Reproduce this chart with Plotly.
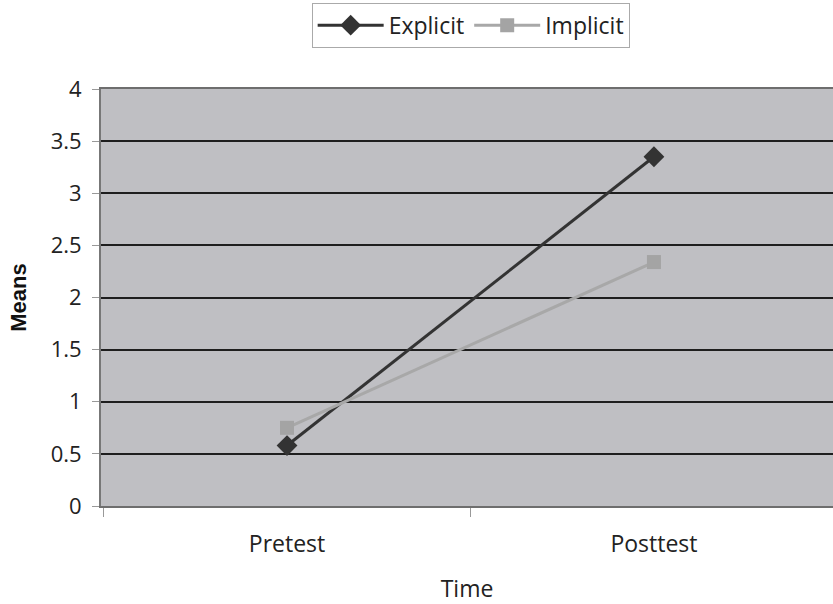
import plotly.graph_objects as go

categories = ["Pretest", "Posttest"]
explicit = [0.58, 3.35]
implicit = [0.75, 2.34]
y_ticks = [0, 0.5, 1, 1.5, 2, 2.5, 3, 3.5, 4]
y_labels = ["0", "0.5", "1", "1.5", "2", "2.5", "3", "3.5", "4"]

FONT = "Open Sans, Lato, sans-serif"

fig = go.Figure()
fig.add_trace(go.Scatter(
    x=categories, y=explicit, name="Explicit", mode="lines+markers",
    line=dict(color="#333333", width=3),
    marker=dict(symbol="diamond", size=16, color="#333333"),
))
fig.add_trace(go.Scatter(
    x=categories, y=implicit, name="Implicit", mode="lines+markers",
    line=dict(color="#a8a8a8", width=3),
    marker=dict(symbol="square", size=14, color="#a4a4a4"),
))

fig.update_layout(
    width=833, height=604,
    margin=dict(l=101, r=0, t=89, b=98, autoexpand=False),
    paper_bgcolor="white",
    plot_bgcolor="#bfbfc3",
    font=dict(family=FONT, size=20, color="#222222"),
    showlegend=True,
    legend=dict(
        orientation="h", x=0.505, xanchor="center", y=1.207, yanchor="top",
        bordercolor="#aaaaaa", borderwidth=1, bgcolor="white",
        font=dict(family=FONT, size=23, color="#222222"),
        itemwidth=66,
    ),
    xaxis=dict(
        type="category", categoryorder="array", categoryarray=categories,
        range=[-0.507, 1.488], automargin=False,
        showgrid=False, showline=True, linecolor="#6e6e6e", linewidth=2, mirror=True,
        ticks="outside", tickson="boundaries", ticklen=9, tickcolor="#999999",
        ticklabelstandoff=16,
        tickfont=dict(family=FONT, size=23, color="#222222"),
        title=dict(text="Time", standoff=33, font=dict(family=FONT, size=23, color="#222222")),
    ),
    yaxis=dict(
        range=[0, 4], tickvals=y_ticks, ticktext=y_labels, automargin=False,
        showgrid=True, gridcolor="#1e1e1e", gridwidth=2,
        zeroline=False, showline=True, linecolor="#777777", linewidth=2,
        ticks="outside", ticklen=7, tickcolor="#999999",
        ticklabelstandoff=6,
        tickfont=dict(family=FONT, size=22, color="#222222"),
        title=dict(text="<b>Means</b>", standoff=18,
                   font=dict(family="Liberation Sans, Arial, sans-serif", size=22, color="#111111")),
    ),
)

fig.write_html(
    "out.html",
    config={"displayModeBar": False},
    post_script="document.body.style.margin='0';document.body.style.overflow='hidden';",
)
